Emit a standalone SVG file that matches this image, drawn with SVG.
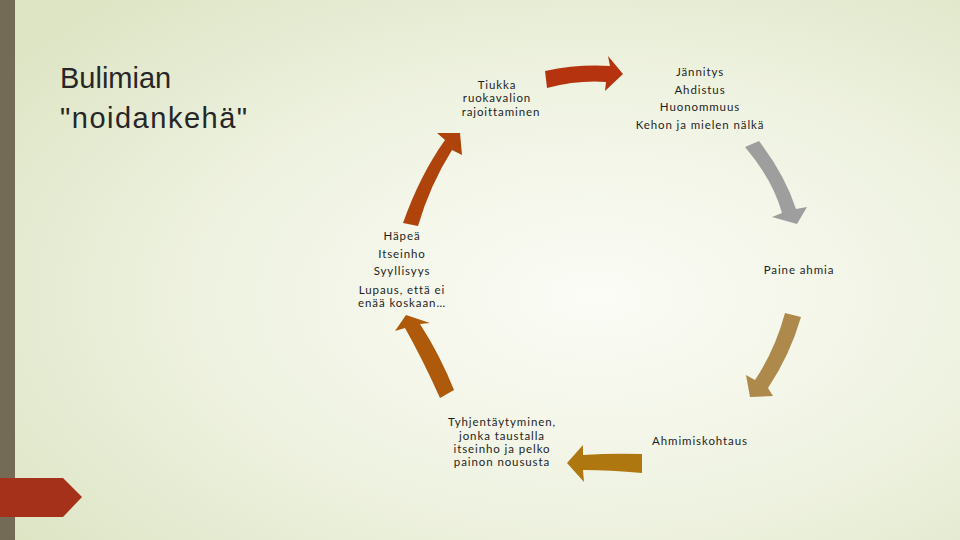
<svg xmlns="http://www.w3.org/2000/svg" width="960" height="540" viewBox="0 0 960 540">
<defs>
<radialGradient id="bg" cx="0.62" cy="0.55" r="0.75">
<stop offset="0" stop-color="#fbfcf6"/>
<stop offset="0.55" stop-color="#eef2e0"/>
<stop offset="1" stop-color="#dde5c5"/>
</radialGradient>
<style>
.t{font-family:Lato,"DejaVu Sans",sans-serif;font-size:11.5px;letter-spacing:0.9px;fill:#1e1e1e;text-anchor:middle}
.title{font-family:"Liberation Sans",Arial,sans-serif;font-size:29px;fill:#262626}
</style>
</defs>
<rect width="960" height="540" fill="url(#bg)"/>
<rect x="0" y="0" width="15" height="540" fill="#736b55"/>
<path d="M0,478 L63,478 L82,497 L63,517 L0,517 Z" fill="#a5311a"/>
<text class="title" x="60" y="88">Bulimian</text>
<text class="title" x="60" y="128" letter-spacing="1.5">"noidankehä"</text>

<g id="connectors">
<path d="M545,71 Q578,64 610,66 L608,56 L623,74 L605,91 L606,82 Q578,80 547,88 Z" fill="#b5330f"/>
<path d="M745,147 L759,141 Q785,175 796,209 L807,207 L797,224 L772,217 L782,213 Q773,180 745,147 Z" fill="#9e9e9e"/>
<path d="M785,313 L801,317 Q790,355 768,388 L773,396 L750,397 L746,375 L755,380 Q775,350 785,313 Z" fill="#ad8a4c"/>
<path d="M642,454 L642,473 Q610,470 583,470 L584,482 L567,463 L583,445 L583,455 Q612,453 642,454 Z" fill="#ae7710"/>
<path d="M440,398 L454,390 Q440,355 420,324 L430,323 L406,315 L395,331 L405,328 Q423,360 440,398 Z" fill="#ae5a0a"/>
<path d="M403,223 L418,226 Q430,185 452,150 L462,155 L460,133 L437,133 L445,140 Q420,175 403,223 Z" fill="#ae440b"/>
</g>

<g id="node-tiukka">
<text class="t" x="497" y="89">Tiukka</text>
<text class="t" x="497" y="102">ruokavalion</text>
<text class="t" x="501" y="116">rajoittaminen</text>
</g>
<g id="node-jannitys">
<text class="t" x="700" y="76">Jännitys</text>
<text class="t" x="700" y="94">Ahdistus</text>
<text class="t" x="700" y="111">Huonommuus</text>
<text class="t" x="700" y="129">Kehon ja mielen nälkä</text>
</g>
<g id="node-paine">
<text class="t" x="799" y="274">Paine ahmia</text>
</g>
<g id="node-ahmimis">
<text class="t" x="700" y="445">Ahmimiskohtaus</text>
</g>
<g id="node-tyhjentaytyminen">
<text class="t" x="502" y="426">Tyhjentäytyminen,</text>
<text class="t" x="502" y="440">jonka taustalla</text>
<text class="t" x="502" y="453">itseinho ja  pelko</text>
<text class="t" x="502" y="466">painon noususta</text>
</g>
<g id="node-hapea">
<text class="t" x="402" y="240">Häpeä</text>
<text class="t" x="402" y="258">Itseinho</text>
<text class="t" x="402" y="275">Syyllisyys</text>
<text class="t" x="402" y="294">Lupaus, että ei</text>
<text class="t" x="402" y="307">enää koskaan…</text>
</g>
</svg>
